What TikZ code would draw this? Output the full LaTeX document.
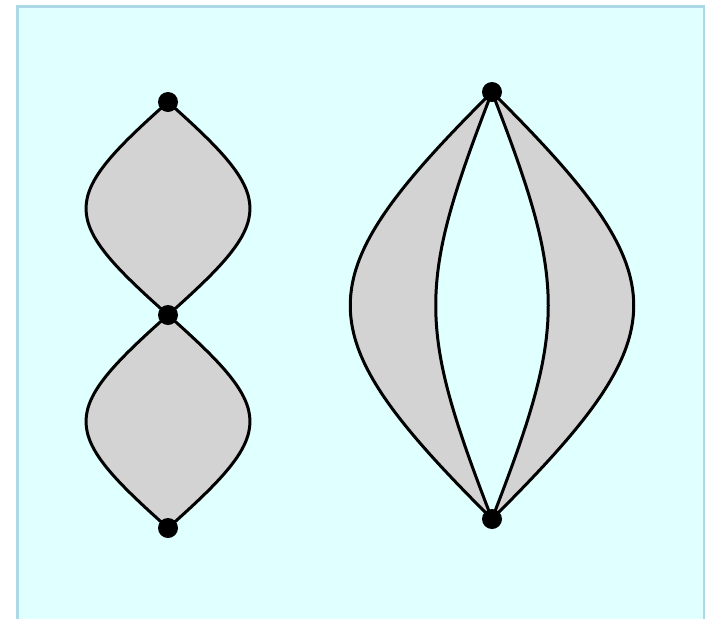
\documentclass[tikz,border=0pt]{standalone}
\definecolor{bgcyan}{RGB}{224,255,255}
\definecolor{framecol}{RGB}{173,216,230}
\definecolor{lobe}{RGB}{211,211,211}
\begin{document}
\begin{tikzpicture}[x=1pt,y=-1pt,
  curve/.style={line width=3pt,line join=round,draw=black,fill=lobe},
  dot/.style={circle,fill=black,inner sep=0pt,minimum size=20pt}]
\useasboundingbox (0,0) rectangle (705,619);
\begin{scope}
\clip (0,0) rectangle (705,619);
\draw[framecol, fill=bgcyan, line width=3pt] (17.5,6) rectangle (704,650);
\end{scope}
% points
\coordinate (la) at (168,102);
\coordinate (lb) at (168,315);
\coordinate (lc) at (168,528);
\coordinate (ra) at (492,92);
\coordinate (rb) at (492,519);
% left lobes
\path[curve] (la) .. controls (58.7,199) and (58.7,218) .. (lb)
  .. controls (277.3,218) and (277.3,199) .. cycle;
\path[curve] (lb) .. controls (58.7,412) and (58.7,431) .. (lc)
  .. controls (277.3,431) and (277.3,412) .. cycle;
% right shape
\path[curve, even odd rule]
  (ra) .. controls (303,280) and (303,331) .. (rb)
  .. controls (681,331) and (681,280) .. cycle
  (ra) .. controls (417,286) and (417,325) .. (rb)
  .. controls (567,325) and (567,286) .. cycle;
% dots
\node[dot] (na) at (la) {};
\node[dot] (nb) at (lb) {};
\node[dot] (nc) at (lc) {};
\node[dot] (nd) at (ra) {};
\node[dot] (ne) at (rb) {};
\end{tikzpicture}
\end{document}
